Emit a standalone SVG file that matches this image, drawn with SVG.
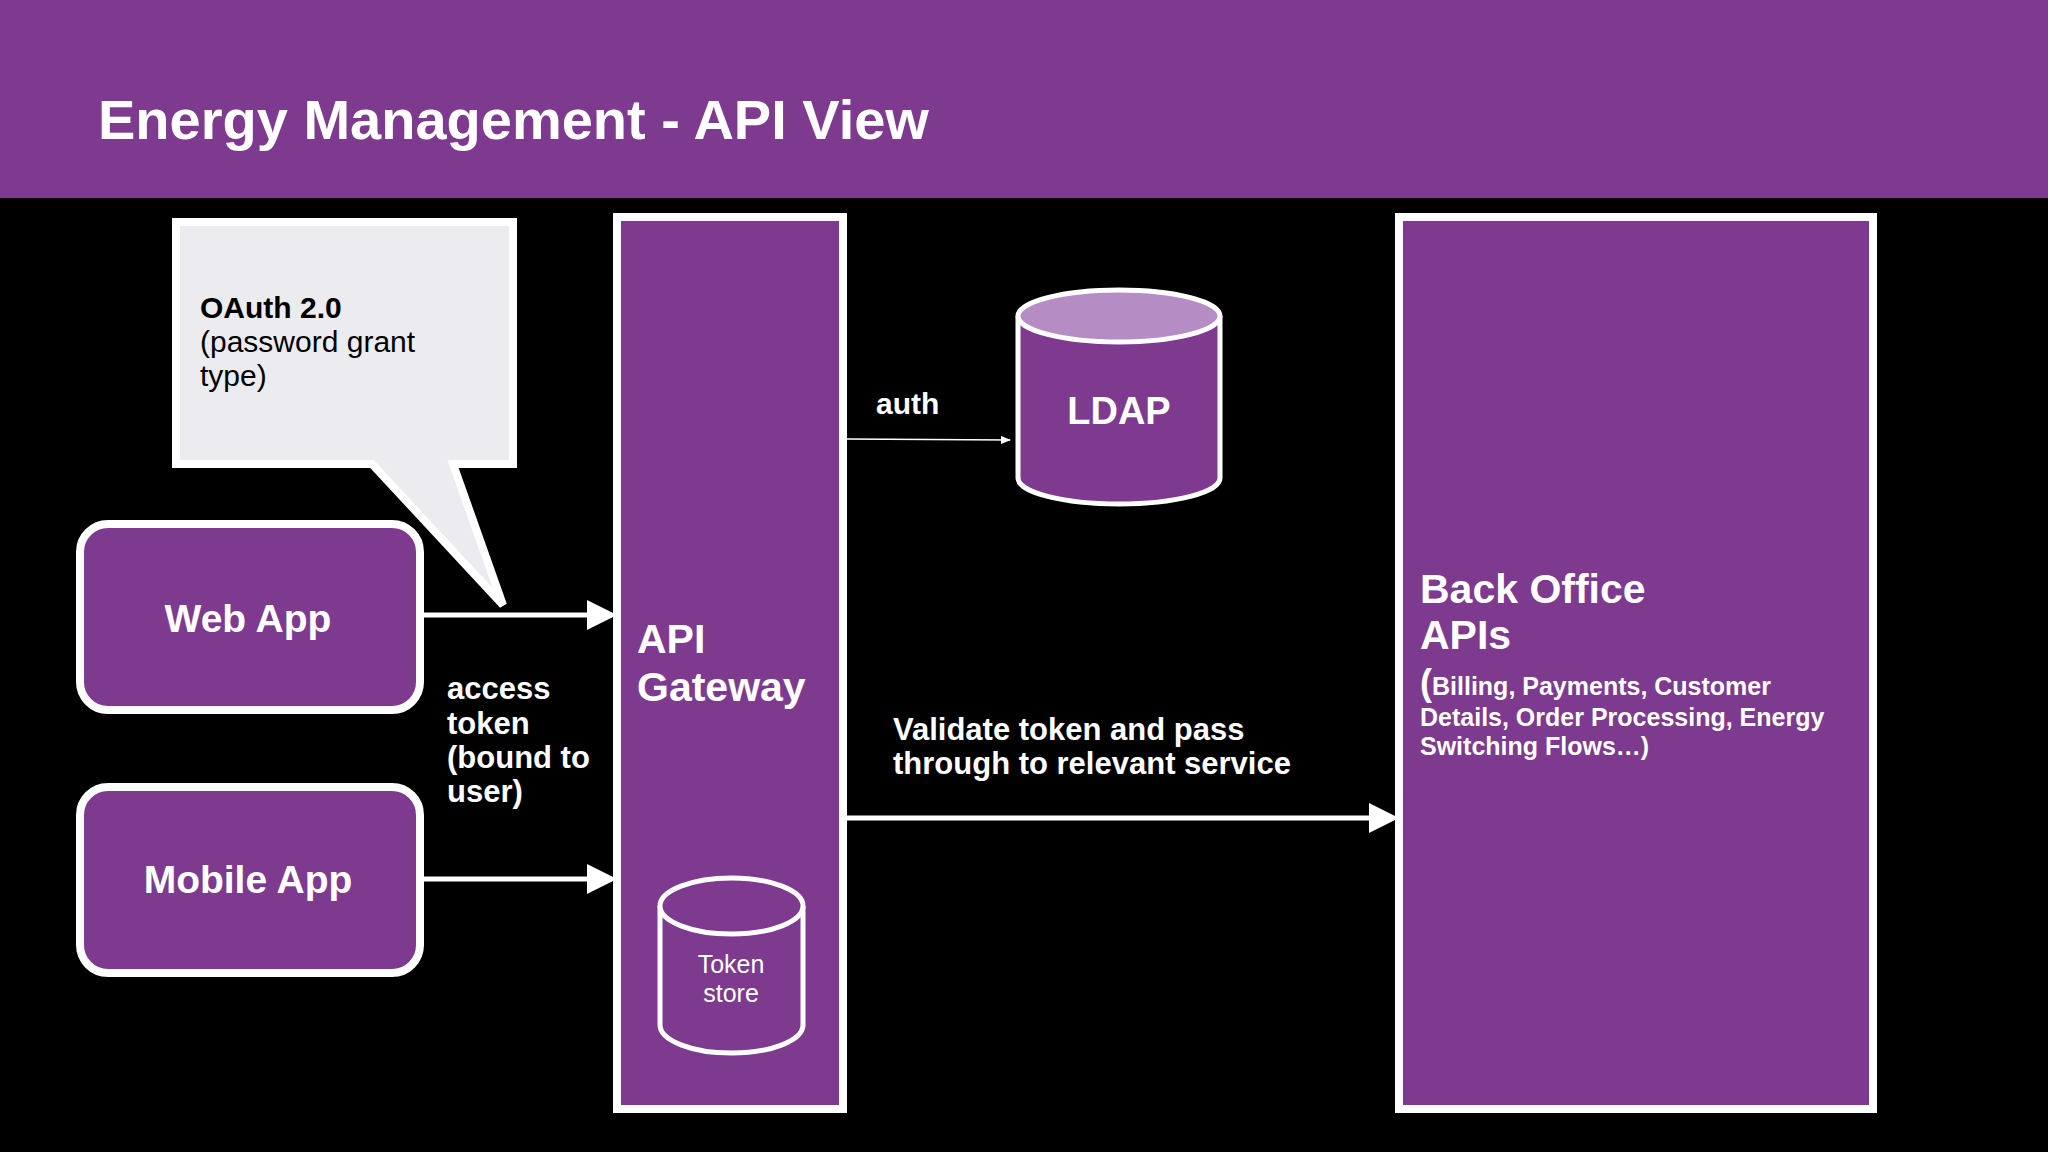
<svg xmlns="http://www.w3.org/2000/svg" width="2048" height="1152" viewBox="0 0 2048 1152">
<defs>
<style>
text{font-family:"Liberation Sans",Arial,sans-serif;fill:#fff}
.b{font-weight:bold}
.box{fill:#7d3a8f;stroke:#fff;stroke-width:8}
.ln{stroke:#fff;stroke-width:5;fill:none}
</style>
<marker id="ah" markerWidth="6" markerHeight="6" refX="5" refY="3" orient="auto" markerUnits="strokeWidth"><path d="M0,0 L6,3 L0,6 z" fill="#fff"/></marker>
<marker id="ah2" markerWidth="10" markerHeight="8" refX="9" refY="4" orient="auto" markerUnits="userSpaceOnUse"><path d="M0,0 L10,4 L0,8 z" fill="#fff"/></marker>
</defs>
<rect width="2048" height="1152" fill="#000"/>
<rect width="2048" height="198" fill="#7d3a8f"/>
<text x="98" y="139" class="b" font-size="56">Energy Management - API View</text>
<g id="callout">
<path d="M176,222 H513 V464 H453 L503,605 L372,464 H176 Z" fill="#ecebef" stroke="#fff" stroke-width="8"/>
<text x="200" y="318" font-size="30" class="b" style="fill:#000">OAuth 2.0</text>
<text x="200" y="352" font-size="30" style="fill:#000">(password grant</text>
<text x="200" y="386" font-size="30" style="fill:#000">type)</text>
</g>
<g id="webapp"><rect x="80" y="524" width="340" height="186" rx="28" class="box"/><text x="248" y="632" text-anchor="middle" class="b" font-size="39">Web App</text></g>
<g id="mobileapp"><rect x="80" y="787" width="340" height="186" rx="28" class="box"/><text x="248" y="893" text-anchor="middle" class="b" font-size="39">Mobile App</text></g>
<g id="gateway"><rect x="617" y="217" width="226" height="892" class="box"/>
<text x="637" y="653" class="b" font-size="41">API</text><text x="637" y="701" class="b" font-size="41">Gateway</text></g>
<g id="tokenstore">
<path d="M660,906 V1025 A71.5,28 0 0 0 803,1025 V906" fill="#7d3a8f" stroke="#fff" stroke-width="5"/>
<ellipse cx="731.5" cy="906" rx="71.5" ry="28" fill="#7d3a8f" stroke="#fff" stroke-width="5"/>
<text x="731" y="973" text-anchor="middle" font-size="25">Token</text><text x="731" y="1002" text-anchor="middle" font-size="25">store</text></g>
<g id="ldap">
<path d="M1018,316 V478 A101,26 0 0 0 1220,478 V316" fill="#7d3a8f" stroke="#fff" stroke-width="5"/>
<ellipse cx="1119" cy="316" rx="101" ry="26" fill="#b58cc4" stroke="#fff" stroke-width="5"/>
<text x="1119" y="424" text-anchor="middle" class="b" font-size="38">LDAP</text></g>
<g id="backoffice"><rect x="1399" y="217" width="474" height="892" class="box"/>
<text x="1420" y="603" class="b" font-size="41">Back Office</text><text x="1420" y="649" class="b" font-size="41">APIs</text>
<text x="1420" y="695" class="b" font-size="25"><tspan font-size="36">(</tspan>Billing, Payments, Customer</text>
<text x="1420" y="726" class="b" font-size="25">Details, Order Processing, Energy</text>
<text x="1420" y="755" class="b" font-size="25">Switching Flows…)</text></g>
<g id="connectors">
<line x1="423" y1="615" x2="612" y2="615" class="ln" marker-end="url(#ah)"/>
<line x1="423" y1="879" x2="612" y2="879" class="ln" marker-end="url(#ah)"/>
<line x1="846" y1="818" x2="1394" y2="818" class="ln" marker-end="url(#ah)"/>
<line x1="846" y1="439" x2="1010" y2="440" stroke="#fff" stroke-width="1.5" marker-end="url(#ah2)"/>
<text x="876" y="414" class="b" font-size="30">auth</text>
<text x="447" y="699" class="b" font-size="31">access</text><text x="447" y="734" class="b" font-size="31">token</text>
<text x="447" y="768" class="b" font-size="31">(bound to</text><text x="447" y="802" class="b" font-size="31">user)</text>
<text x="893" y="740" class="b" font-size="31">Validate token and pass</text>
<text x="893" y="774" class="b" font-size="31">through to relevant service</text>
</g>
</svg>
